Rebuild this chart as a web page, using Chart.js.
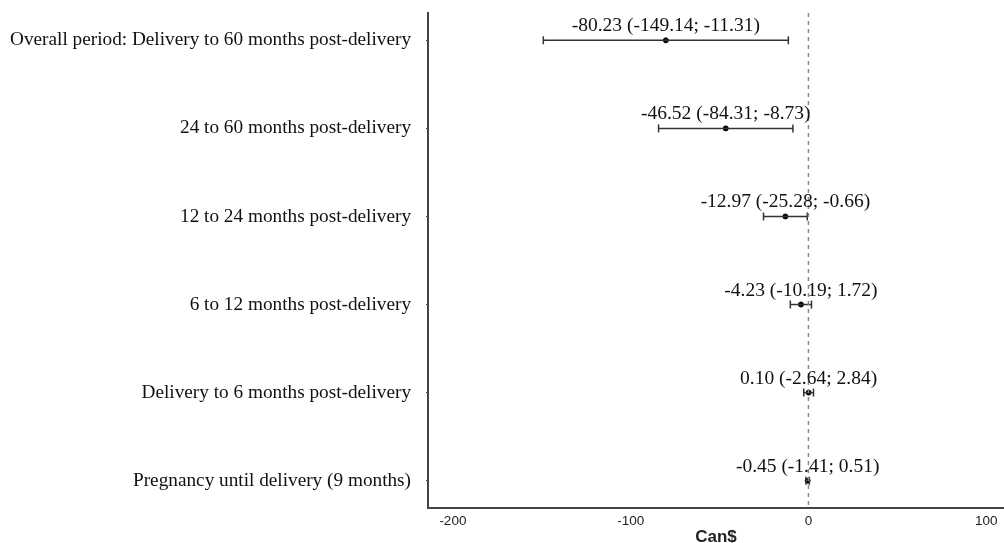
<!DOCTYPE html>
<html>
<head>
<meta charset="utf-8">
<script src="https://cdn.jsdelivr.net/npm/chart.js@4"></script>
<style>
  html, body { margin: 0; padding: 0; background: #fff; }
  #wrap { width: 1004px; height: 543px; }
</style>
</head>
<body>
<div id="wrap"><canvas id="c" width="1004" height="543"></canvas></div>
<script>
const categories = [
  "Overall period: Delivery to 60 months post-delivery",
  "24 to 60 months post-delivery",
  "12 to 24 months post-delivery",
  "6 to 12 months post-delivery",
  "Delivery to 6 months post-delivery",
  "Pregnancy until delivery (9 months)"
];
const estimates = [-80.23, -46.52, -12.97, -4.23, 0.10, -0.45];
const lowerCI   = [-149.14, -84.31, -25.28, -10.19, -2.64, -1.41];
const upperCI   = [-11.31, -8.73, -0.66, 1.72, 2.84, 0.51];
const xTicks = [-200, -100, 0, 100];
const xMin = -214, xMax = 110;
const yMin = -0.31, yMax = categories.length - 1 + 0.31;

const fmt = v => v.toFixed(2);
const annotations = estimates.map((e, i) => `${fmt(e)} (${fmt(lowerCI[i])}; ${fmt(upperCI[i])})`);

const ciDatasets = categories.map((c, i) => ({
  type: 'line',
  data: [{x: lowerCI[i], y: i}, {x: upperCI[i], y: i}],
  borderColor: '#333',
  borderWidth: 1.5,
  pointStyle: 'line',
  rotation: 90,
  pointRadius: 4,
  pointBorderWidth: 1.5,
  pointBorderColor: '#333',
  fill: false
}));

const zeroLine = {
  type: 'line',
  data: [{x: 0, y: yMin}, {x: 0, y: yMax}],
  borderColor: '#8a8a8a',
  borderWidth: 1.5,
  borderDash: [4, 4],
  pointRadius: 0,
  fill: false
};

const pointDs = {
  type: 'scatter',
  data: estimates.map((e, i) => ({x: e, y: i})),
  backgroundColor: '#000',
  borderColor: '#000',
  pointRadius: 2.5
};

const annotationPlugin = {
  id: 'annot',
  afterDatasetsDraw(chart) {
    const {ctx, scales: {x, y}} = chart;
    ctx.save();
    ctx.font = '19.5px "Liberation Serif"';
    ctx.fillStyle = '#111';
    ctx.textAlign = 'center';
    ctx.textBaseline = 'alphabetic';
    annotations.forEach((t, i) => {
      ctx.fillText(t, x.getPixelForValue(estimates[i]), y.getPixelForValue(i) - 9);
    });
    ctx.restore();
  }
};

new Chart(document.getElementById('c'), {
  type: 'scatter',
  data: { datasets: [zeroLine, ...ciDatasets, pointDs] },
  options: {
    responsive: false,
    animation: false,
    layout: { autoPadding: false, padding: { top: 13, right: 0, left: 0, bottom: 0 } },
    plugins: { legend: { display: false }, tooltip: { enabled: false } },
    scales: {
      x: {
        type: 'linear',
        min: xMin, max: xMax,
        afterBuildTicks: s => { s.ticks = xTicks.map(v => ({value: v})); },
        afterFit: s => { s.height = 35; s.paddingLeft = 0; s.paddingRight = 0; },
        grid: { display: false, drawTicks: false },
        border: { display: true, color: '#444', width: 2 },
        ticks: { padding: 5, color: '#222', font: { family: 'Liberation Sans', size: 13.5 } },
        title: { display: true, text: 'Can$', color: '#222', padding: { top: 0, bottom: -3 },
                 font: { family: 'Liberation Sans', size: 17, weight: 'bold', lineHeight: 1 } }
      },
      y: {
        type: 'linear',
        reverse: true,
        min: yMin, max: yMax,
        afterBuildTicks: s => { s.ticks = categories.map((c, i) => ({value: i})); },
        afterFit: s => { s.width = 428; s.paddingTop = 0; s.paddingBottom = 0; },
        grid: { drawOnChartArea: false, drawTicks: true, tickLength: 2, tickColor: '#444' },
        border: { display: true, color: '#444', width: 2 },
        ticks: {
          padding: 15,
          color: '#111',
          font: { family: 'Liberation Serif', size: 19.25 },
          callback: v => categories[v]
        }
      }
    }
  },
  plugins: [annotationPlugin]
});
</script>
</body>
</html>
